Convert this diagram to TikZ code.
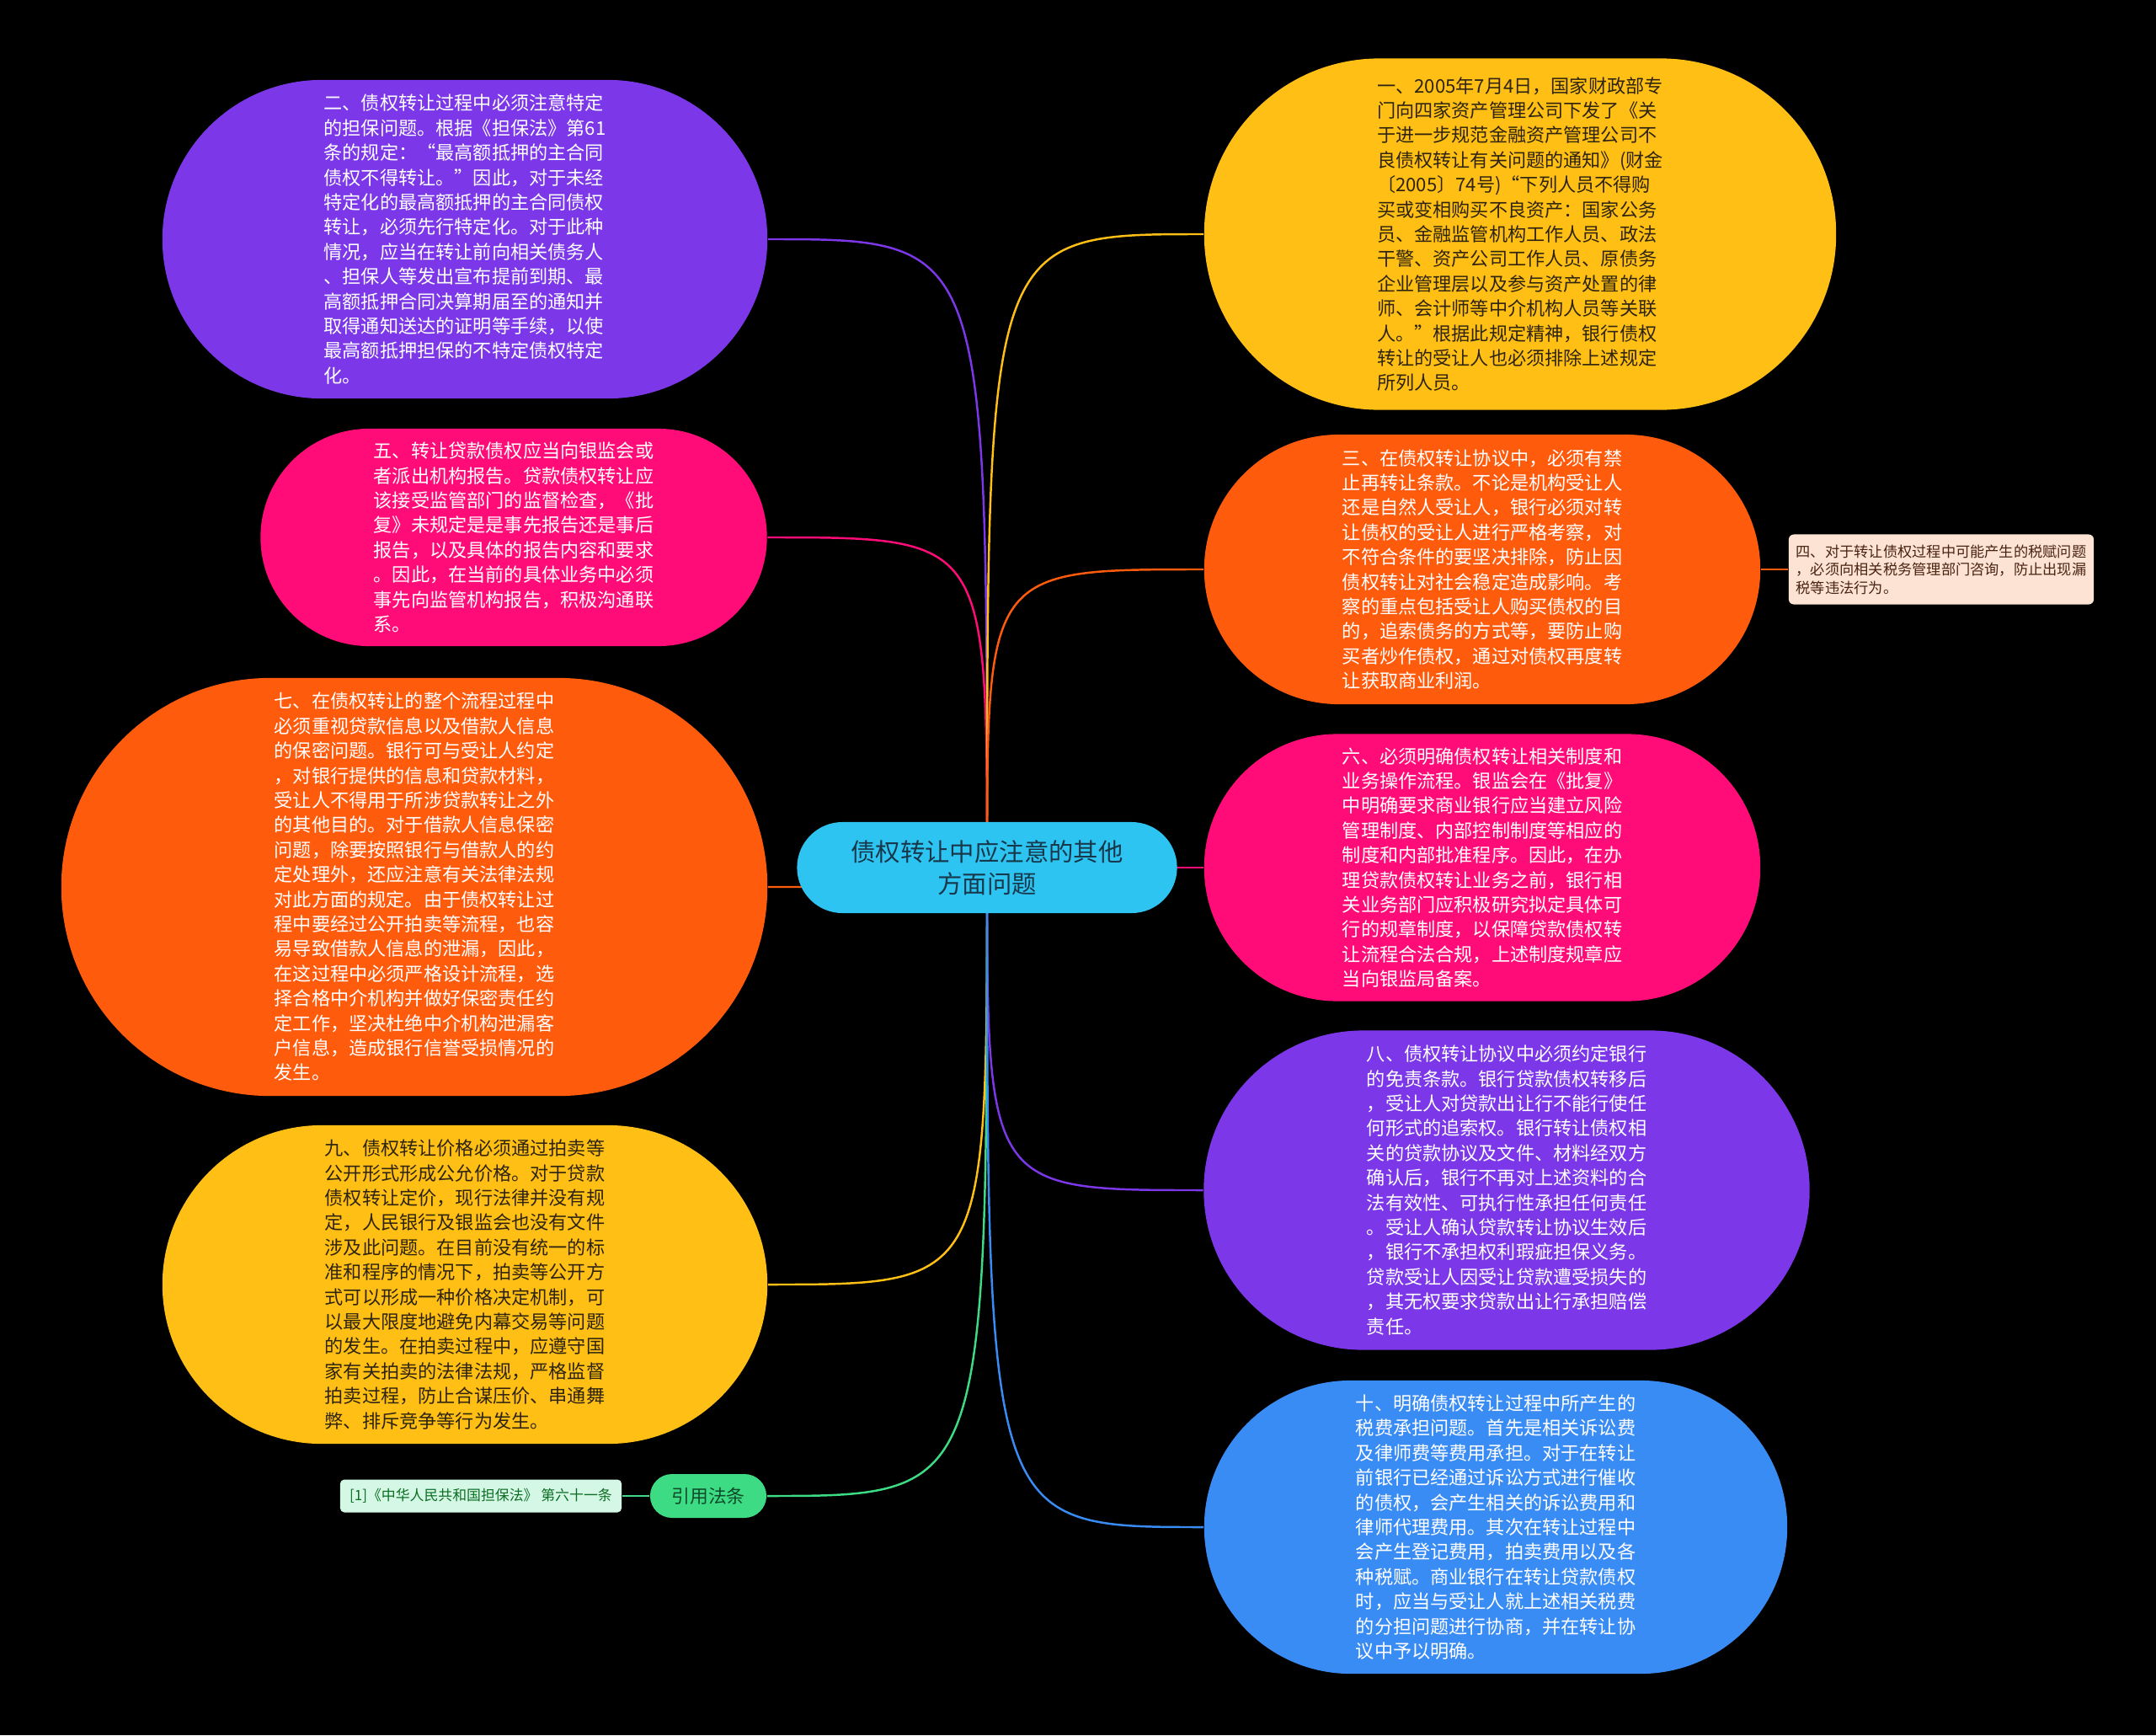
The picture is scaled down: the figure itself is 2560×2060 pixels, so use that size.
\documentclass[tikz,border=0pt]{standalone}
\usepackage{fontspec}
\setmainfont{Noto Sans CJK SC}
\usetikzlibrary{backgrounds}
\definecolor{rootcyan}{HTML}{2EC4F2}
\definecolor{mpurple}{HTML}{7B37E8}
\definecolor{mpink}{HTML}{FF0C78}
\definecolor{morange}{HTML}{FF5B0D}
\definecolor{myellow}{HTML}{FFBF15}
\definecolor{mblue}{HTML}{3A8CF5}
\definecolor{mgreen}{HTML}{3DDC84}
\definecolor{darktext}{HTML}{2E2410}
\definecolor{roottext}{HTML}{17384A}
\definecolor{greentext}{HTML}{0E4A2A}
\definecolor{reffill}{HTML}{D5F7E5}
\definecolor{notefill}{HTML}{FDE3D3}
\definecolor{notetext}{HTML}{4A2412}
\tikzset{
  bubble/.style={rectangle, inner sep=0pt, align=left,
    font=\fontsize{6.3pt}{8.36pt}\selectfont},
  link/.style={line width=0.7pt},
}
\begin{document}
\begin{tikzpicture}[x=0.01cm, y=-0.01cm]
% centre
\node[rectangle, fill=rootcyan, text=roottext, align=center, inner sep=0pt,
  minimum width=4.51cm, minimum height=1.08cm, rounded corners=0.54cm,
  font=\fontsize{8.35pt}{10.8pt}\selectfont] (root) at (1172,1030)
  {债权转让中应注意的其他\\方面问题};
% left side
\node[bubble, fill=mpurple, text=white, minimum width=7.18cm,
  minimum height=3.78cm, rounded corners=1.89cm] (item2) at (552,284)
  {二、债权转让过程中必须注意特定\\
   的担保问题。根据《担保法》第61\\
   条的规定：“最高额抵押的主合同\\
   债权不得转让。”因此，对于未经\\
   特定化的最高额抵押的主合同债权\\
   转让，必须先行特定化。对于此种\\
   情况，应当在转让前向相关债务人\\
   、担保人等发出宣布提前到期、最\\
   高额抵押合同决算期届至的通知并\\
   取得通知送达的证明等手续，以使\\
   最高额抵押担保的不特定债权特定\\
   化。};
\node[bubble, fill=mpink, text=white, minimum width=6.01cm,
  minimum height=2.58cm, rounded corners=1.29cm] (item5) at (610,638)
  {五、转让贷款债权应当向银监会或\\
   者派出机构报告。贷款债权转让应\\
   该接受监管部门的监督检查，《批\\
   复》未规定是是事先报告还是事后\\
   报告，以及具体的报告内容和要求\\
   。因此，在当前的具体业务中必须\\
   事先向监管机构报告，积极沟通联\\
   系。};
\node[bubble, fill=morange, text=white, minimum width=8.38cm,
  minimum height=4.96cm, rounded corners=2.48cm] (item7) at (492,1053)
  {七、在债权转让的整个流程过程中\\
   必须重视贷款信息以及借款人信息\\
   的保密问题。银行可与受让人约定\\
   ，对银行提供的信息和贷款材料，\\
   受让人不得用于所涉贷款转让之外\\
   的其他目的。对于借款人信息保密\\
   问题，除要按照银行与借款人的约\\
   定处理外，还应注意有关法律法规\\
   对此方面的规定。由于债权转让过\\
   程中要经过公开拍卖等流程，也容\\
   易导致借款人信息的泄漏，因此，\\
   在这过程中必须严格设计流程，选\\
   择合格中介机构并做好保密责任约\\
   定工作，坚决杜绝中介机构泄漏客\\
   户信息，造成银行信誉受损情况的\\
   发生。};
\node[bubble, fill=myellow, text=darktext, minimum width=7.18cm,
  minimum height=3.78cm, rounded corners=1.89cm] (item9) at (552,1525)
  {九、债权转让价格必须通过拍卖等\\
   公开形式形成公允价格。对于贷款\\
   债权转让定价，现行法律并没有规\\
   定，人民银行及银监会也没有文件\\
   涉及此问题。在目前没有统一的标\\
   准和程序的情况下，拍卖等公开方\\
   式可以形成一种价格决定机制，可\\
   以最大限度地避免内幕交易等问题\\
   的发生。在拍卖过程中，应遵守国\\
   家有关拍卖的法律法规，严格监督\\
   拍卖过程，防止合谋压价、串通舞\\
   弊、排斥竞争等行为发生。};
\node[rectangle, fill=mgreen, text=greentext, inner sep=0pt,
  minimum width=1.38cm, minimum height=0.52cm, rounded corners=0.26cm,
  font=\fontsize{6.2pt}{7.5pt}\selectfont] (law) at (841,1776) {引用法条};
\node[rectangle, fill=reffill, text=greentext!80!green, inner sep=0pt,
  minimum width=3.34cm, minimum height=0.39cm, rounded corners=0.05cm,
  font=\fontsize{4.8pt}{6pt}\selectfont] (lawref) at (571,1776)
  {[1]《中华人民共和国担保法》 第六十一条};
% right side
\node[bubble, fill=myellow, text=darktext, minimum width=7.5cm,
  minimum height=4.17cm, rounded corners=2.08cm] (item1) at (1805,278)
  {一、2005年7月4日，国家财政部专\\
   门向四家资产管理公司下发了《关\\
   于进一步规范金融资产管理公司不\\
   良债权转让有关问题的通知》(财金\\
   〔2005〕74号)“下列人员不得购\\
   买或变相购买不良资产：国家公务\\
   员、金融监管机构工作人员、政法\\
   干警、资产公司工作人员、原债务\\
   企业管理层以及参与资产处置的律\\
   师、会计师等中介机构人员等关联\\
   人。”根据此规定精神，银行债权\\
   转让的受让人也必须排除上述规定\\
   所列人员。};
\node[bubble, fill=morange, text=white, minimum width=6.6cm,
  minimum height=3.2cm, rounded corners=1.6cm] (item3) at (1760,676)
  {三、在债权转让协议中，必须有禁\\
   止再转让条款。不论是机构受让人\\
   还是自然人受让人，银行必须对转\\
   让债权的受让人进行严格考察，对\\
   不符合条件的要坚决排除，防止因\\
   债权转让对社会稳定造成影响。考\\
   察的重点包括受让人购买债权的目\\
   的，追索债务的方式等，要防止购\\
   买者炒作债权，通过对债权再度转\\
   让获取商业利润。};
\node[rectangle, fill=notefill, text=notetext, align=left, inner sep=0pt,
  minimum width=3.62cm, minimum height=0.83cm, rounded corners=0.06cm,
  font=\fontsize{4.9pt}{6.1pt}\selectfont] (item4) at (2305,676)
  {四、对于转让债权过程中可能产生的税赋问题\\
   ，必须向相关税务管理部门咨询，防止出现漏\\
   税等违法行为。};
\node[bubble, fill=mpink, text=white, minimum width=6.6cm,
  minimum height=3.17cm, rounded corners=1.58cm] (item6) at (1760,1030)
  {六、必须明确债权转让相关制度和\\
   业务操作流程。银监会在《批复》\\
   中明确要求商业银行应当建立风险\\
   管理制度、内部控制制度等相应的\\
   制度和内部批准程序。因此，在办\\
   理贷款债权转让业务之前，银行相\\
   关业务部门应积极研究拟定具体可\\
   行的规章制度，以保障贷款债权转\\
   让流程合法合规，上述制度规章应\\
   当向银监局备案。};
\node[bubble, fill=mpurple, text=white, minimum width=7.19cm,
  minimum height=3.79cm, rounded corners=1.89cm] (item8) at (1789,1413)
  {八、债权转让协议中必须约定银行\\
   的免责条款。银行贷款债权转移后\\
   ，受让人对贷款出让行不能行使任\\
   何形式的追索权。银行转让债权相\\
   关的贷款协议及文件、材料经双方\\
   确认后，银行不再对上述资料的合\\
   法有效性、可执行性承担任何责任\\
   。受让人确认贷款转让协议生效后\\
   ，银行不承担权利瑕疵担保义务。\\
   贷款受让人因受让贷款遭受损失的\\
   ，其无权要求贷款出让行承担赔偿\\
   责任。};
\node[bubble, fill=mblue, text=white, minimum width=6.92cm,
  minimum height=3.48cm, rounded corners=1.74cm] (item10) at (1776,1813)
  {十、明确债权转让过程中所产生的\\
   税费承担问题。首先是相关诉讼费\\
   及律师费等费用承担。对于在转让\\
   前银行已经通过诉讼方式进行催收\\
   的债权，会产生相关的诉讼费用和\\
   律师代理费用。其次在转让过程中\\
   会产生登记费用，拍卖费用以及各\\
   种税赋。商业银行在转让贷款债权\\
   时，应当与受让人就上述相关税费\\
   的分担问题进行协商，并在转让协\\
   议中予以明确。};
% connectors
\begin{scope}[on background layer]
\fill[black] (0,0) rectangle (2560,2060);
\draw[link, mpurple] (root.center) .. controls (root.center |- item2.east) .. (item2.east);
\draw[link, mpink] (root.center) .. controls (root.center |- item5.east) .. (item5.east);
\draw[link, morange] (root.center) .. controls (root.center |- item7.east) .. (item7.east);
\draw[link, myellow] (root.center) .. controls (root.center |- item9.east) .. (item9.east);
\draw[link, mgreen] (root.center) .. controls (root.center |- law.east) .. (law.east);
\draw[link, mgreen] (law) -- (lawref);
\draw[link, myellow] (root.center) .. controls (root.center |- item1.west) .. (item1.west);
\draw[link, morange] (root.center) .. controls (root.center |- item3.west) .. (item3.west);
\draw[link, morange] (item3) -- (item4);
\draw[link, mpink] (root.center) -- (item6.west);
\draw[link, mpurple] (root.center) .. controls (root.center |- item8.west) .. (item8.west);
\draw[link, mblue] (root.center) .. controls (root.center |- item10.west) .. (item10.west);
\end{scope}
\end{tikzpicture}
\end{document}
